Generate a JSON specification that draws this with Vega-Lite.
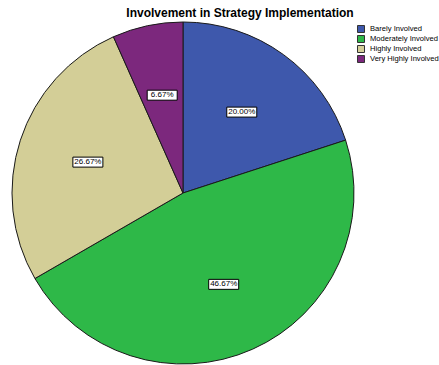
{
  "$schema": "https://vega.github.io/schema/vega-lite/v6.json",
  "width": 366,
  "height": 346,
  "autosize": "none",
  "padding": {"left": 0, "top": 20, "right": 73, "bottom": 0},
  "background": "white",
  "view": {"stroke": null},
  "title": {
    "text": "Involvement in Strategy Implementation",
    "font": "Liberation Sans",
    "fontSize": 12,
    "fontWeight": "bold",
    "color": "black",
    "anchor": "middle",
    "dx": 57,
    "offset": 0
  },
  "data": {
    "values": [
      {"level": "Barely Involved", "pct": 20.00},
      {"level": "Moderately Involved", "pct": 46.67},
      {"level": "Highly Involved", "pct": 26.67},
      {"level": "Very Highly Involved", "pct": 6.67}
    ]
  },
  "transform": [
    {"calculate": "format(datum.pct, '.2f') + '%'", "as": "label"},
    {"window": [{"op": "sum", "field": "pct", "as": "cum"}], "frame": [null, 0]},
    {"joinaggregate": [{"op": "sum", "field": "pct", "as": "total"}]},
    {"calculate": "(datum.cum - datum.pct / 2) / datum.total * 2 * PI", "as": "mid"},
    {"calculate": "100 * sin(datum.mid)", "as": "lx"},
    {"calculate": "100 * cos(datum.mid)", "as": "ly"}
  ],
  "layer": [
    {
      "mark": {"type": "arc", "outerRadius": 171, "stroke": "#1a1a1a", "strokeWidth": 1},
      "encoding": {
        "theta": {"field": "pct", "type": "quantitative", "stack": true},
        "order": {"field": "cum", "type": "quantitative"},
        "color": {
          "field": "level",
          "type": "nominal",
          "sort": ["Barely Involved", "Moderately Involved", "Highly Involved", "Very Highly Involved"],
          "scale": {
            "domain": ["Barely Involved", "Moderately Involved", "Highly Involved", "Very Highly Involved"],
            "range": ["#3E58AC", "#2EB848", "#D3CE97", "#7C287D"]
          },
          "legend": {
            "title": null,
            "orient": "none",
            "legendX": 357,
            "legendY": 5,
            "symbolType": "square",
            "symbolSize": 49,
            "symbolStrokeColor": "#333333",
            "symbolStrokeWidth": 1,
            "labelFont": "Liberation Sans",
            "labelFontSize": 7.6,
            "labelColor": "black",
            "labelOffset": 5,
            "labelLimit": 200,
            "rowPadding": -2
          }
        }
      }
    },
    {
      "mark": {"type": "point", "shape": "M-1,-0.333H1V0.333H-1Z", "filled": true, "fill": "white", "stroke": "black", "strokeWidth": 1, "size": 900, "opacity": 1},
      "encoding": {
        "x": {"field": "lx", "type": "quantitative", "scale": {"domain": [-183, 183], "nice": false}, "axis": null},
        "y": {"field": "ly", "type": "quantitative", "scale": {"domain": [-173, 173], "nice": false}, "axis": null}
      }
    },
    {
      "mark": {"type": "text", "font": "Liberation Sans", "fontSize": 8, "color": "black"},
      "encoding": {
        "x": {"field": "lx", "type": "quantitative"},
        "y": {"field": "ly", "type": "quantitative"},
        "text": {"field": "label"}
      }
    }
  ]
}
